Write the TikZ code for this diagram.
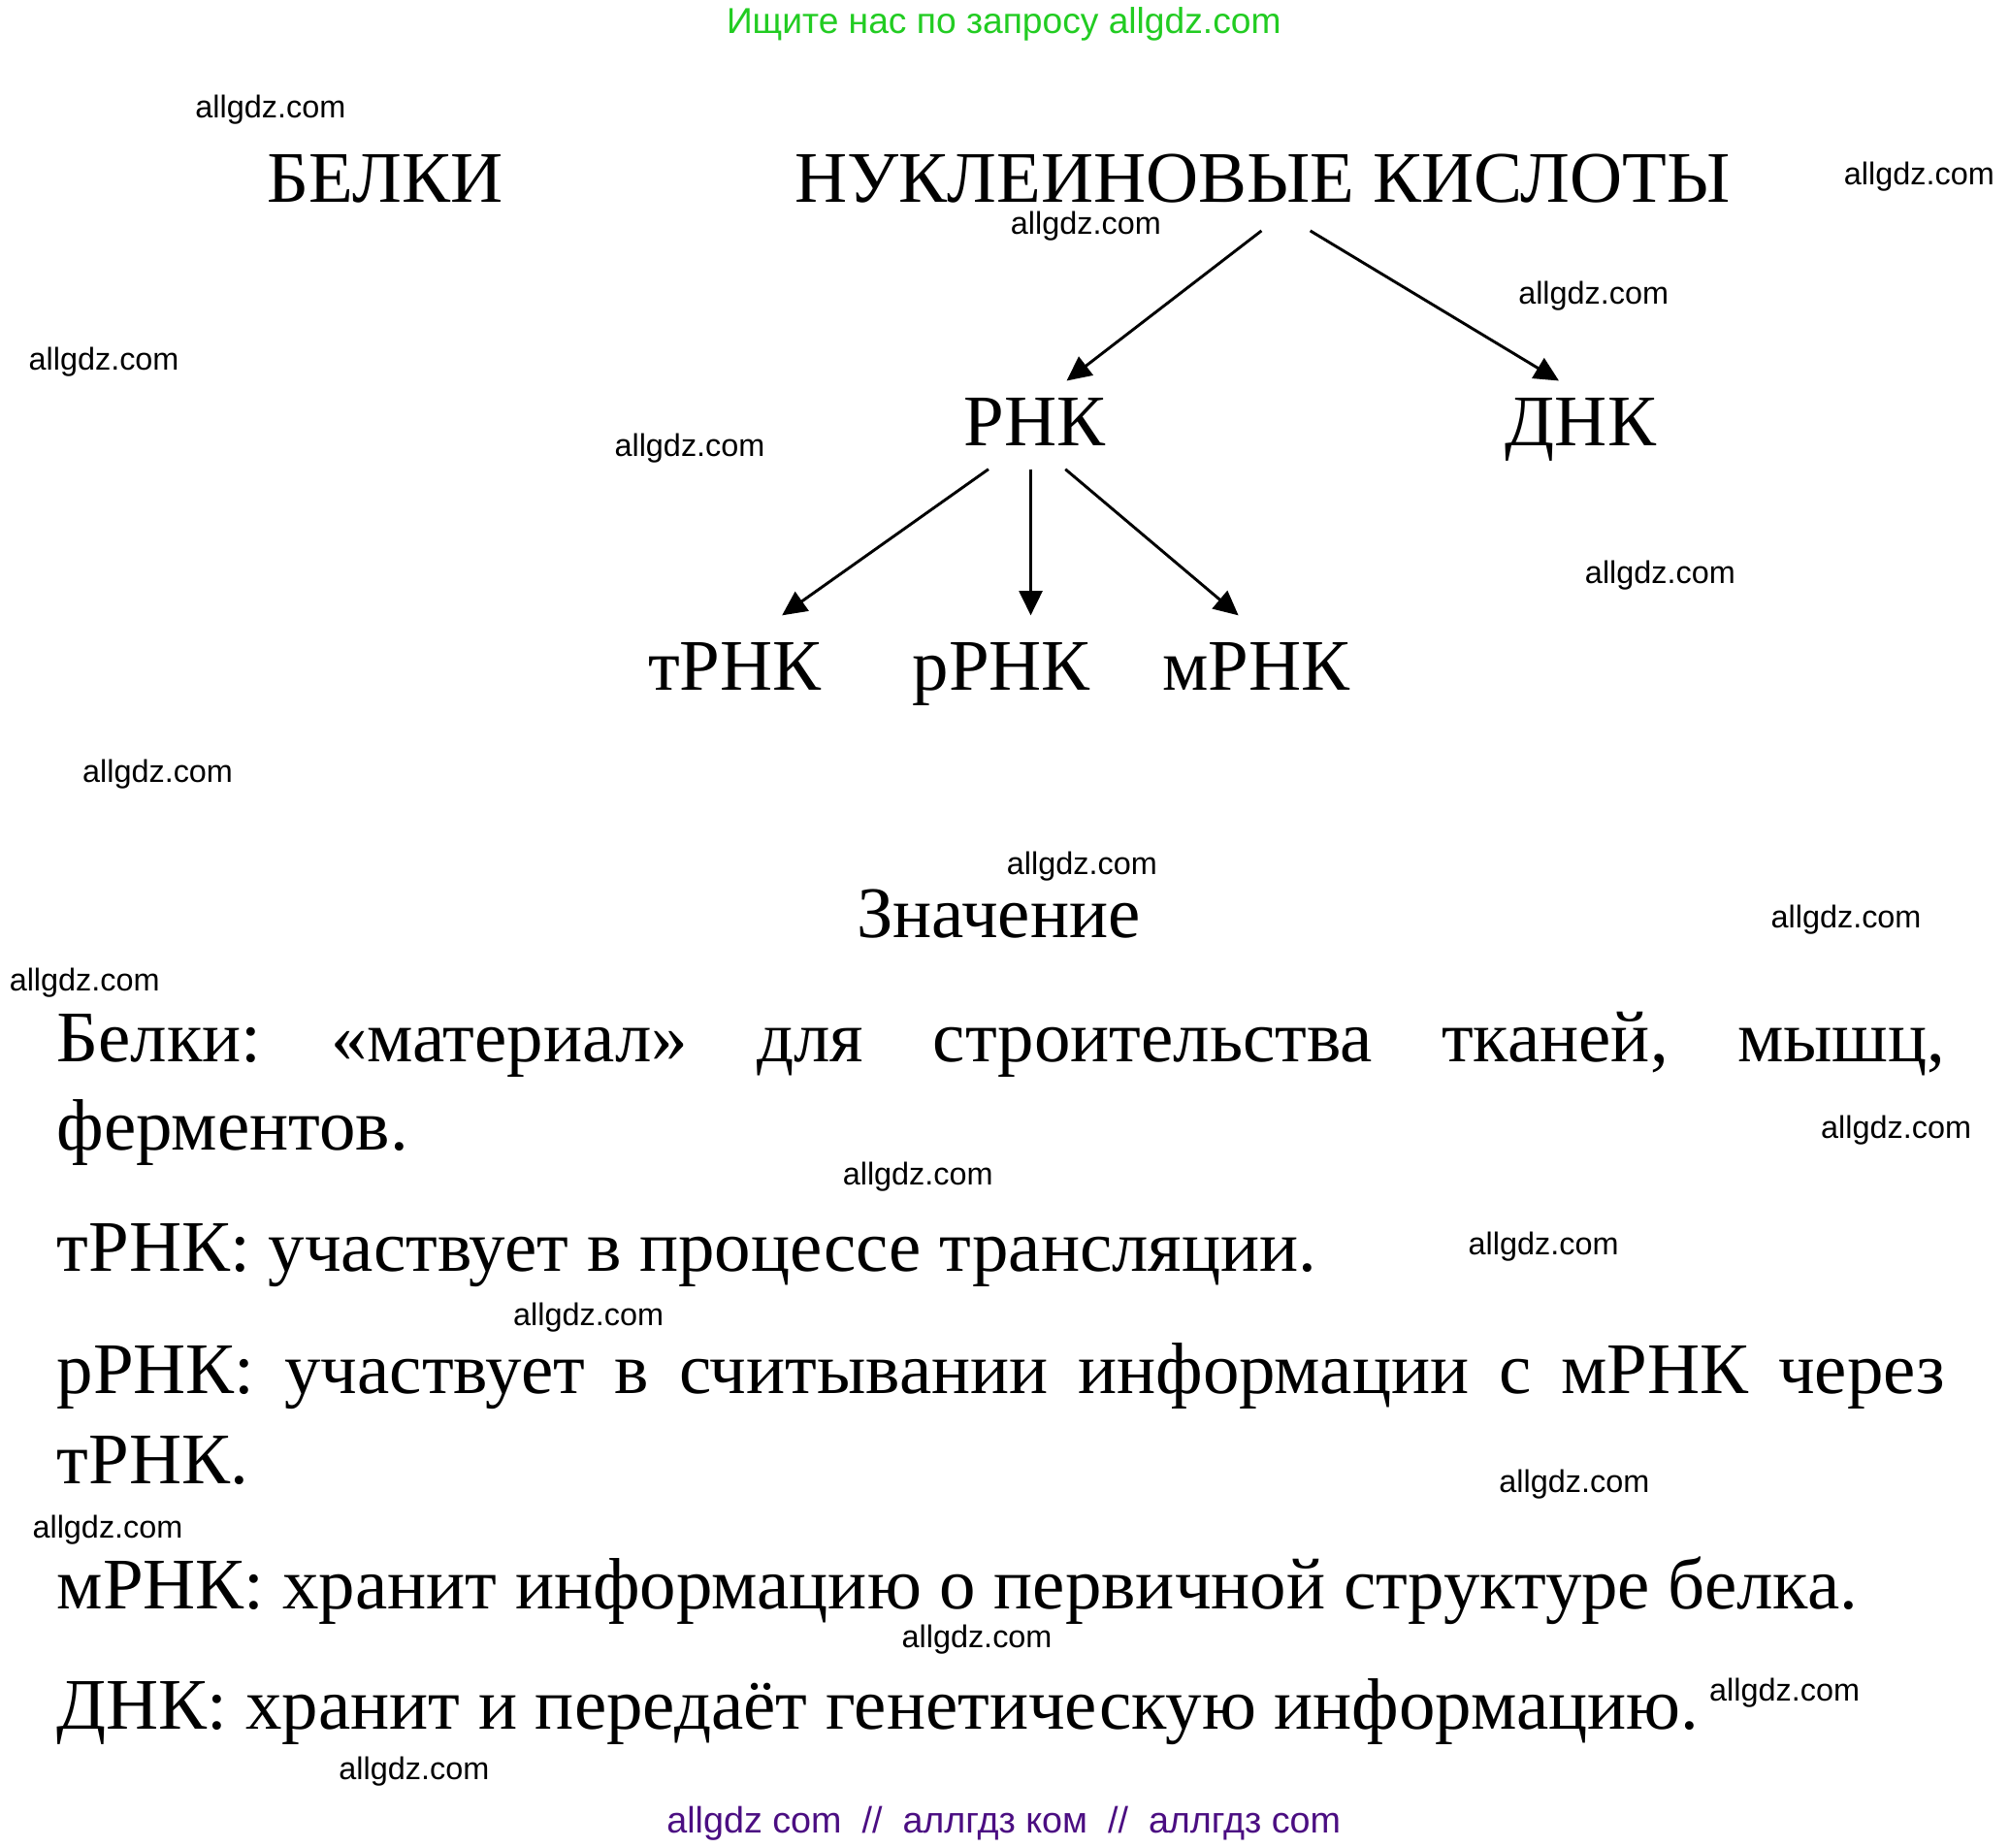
\documentclass[tikz,border=0pt]{standalone}
\usepackage{fontspec}
\setmainfont{Liberation Serif}
\newfontfamily\wmfont{Liberation Sans}
\usetikzlibrary{arrows.meta}
\definecolor{adgreen}{RGB}{34,204,34}
\definecolor{adpurple}{RGB}{75,14,130}
\tikzset{
  big/.style={inner sep=0pt, anchor=base, font=\fontsize{28.2}{34}\selectfont},
  para/.style={inner sep=0pt, anchor=base west, font=\fontsize{28.2}{34}\selectfont},
  wm/.style={inner sep=0pt, anchor=base west, font=\wmfont\fontsize{12.2}{14}\selectfont},
  arr/.style={line width=1.1pt, -{Triangle[length=9.5pt,width=9pt]}},
}
\newcommand{\jline}[1]{\makebox[732.8pt][s]{#1}}
\frenchspacing
\begin{document}
\begin{tikzpicture}[x=0.4975pt,y=-0.4975pt]
\fill[white] (0pt,0pt) rectangle (780pt,-717pt);
\useasboundingbox (0pt,0pt) rectangle (780pt,-717pt);
% header / footer
\node[inner sep=0pt, anchor=base, text=adgreen, font=\wmfont\fontsize{14}{17}\selectfont] (top) at (783,26) {Ищите нас по запросу allgdz.com};
\node[inner sep=0pt, anchor=base, text=adpurple, font=\wmfont\fontsize{14.2}{17}\selectfont] (bottom) at (783,1430) {allgdz com\ \ //\ \ аллгдз ком\ \ //\ \ аллгдз com};
% diagram
\node[big] (belki) at (300.5,158) {БЕЛКИ};
\node[big] (nk) at (985,158) {НУКЛЕИНОВЫЕ КИСЛОТЫ};
\node[big] (rnk) at (807,348) {РНК};
\node[big] (dnk) at (1233,348) {ДНК};
\node[big] (trnk) at (573,538) {тРНК};
\node[big] (rrnk) at (781,538) {рРНК};
\node[big] (mrnk) at (980,538) {мРНК};
\draw[arr] ([shift={(-1,22)}]nk.base) -- ([shift={(25,-51)}]rnk.base);
\draw[arr] ([shift={(37,22)}]nk.base) -- ([shift={(-17,-51)}]dnk.base);
\draw[arr] ([shift={(-36,18)}]rnk.base) -- ([shift={(37,-58)}]trnk.base);
\draw[arr] ([shift={(-3,18)}]rnk.base) -- ([shift={(23,-58)}]rrnk.base);
\draw[arr] ([shift={(24,18)}]rnk.base) -- ([shift={(-14,-58)}]mrnk.base);
% meaning
\node[big] (znach) at (779,731) {Значение};
\node[para] (p1) at (44,828) {\jline{Белки: «материал» для строительства тканей, мышц,}};
\node[para] (p2) at (44,897) {ферментов.};
\node[para] (p3) at (44,992) {тРНК: участвует в процессе трансляции.};
\node[para] (p4) at (44,1087) {\jline{рРНК: участвует в считывании информации с мРНК через}};
\node[para] (p5) at (44,1157) {тРНК.};
\node[para] (p6) at (44,1255) {мРНК: хранит информацию о первичной структуре белка.};
\node[para] (p7) at (44,1349) {ДНК: хранит и передаёт генетическую информацию.};
% watermarks
\node[wm] (w1) at (152,92) {allgdz.com};
\node[wm] (w2) at (1438,144) {allgdz.com};
\node[wm] (w3) at (788,183) {allgdz.com};
\node[wm] (w4) at (1184,237) {allgdz.com};
\node[wm] (w5) at (22,289) {allgdz.com};
\node[wm] (w6) at (479,356) {allgdz.com};
\node[wm] (w7) at (1236,455) {allgdz.com};
\node[wm] (w8) at (64,610) {allgdz.com};
\node[wm] (w9) at (785,682) {allgdz.com};
\node[wm] (w10) at (1381,724) {allgdz.com};
\node[wm] (w11) at (7,773) {allgdz.com};
\node[wm] (w12) at (1420,888) {allgdz.com};
\node[wm] (w13) at (657,924) {allgdz.com};
\node[wm] (w14) at (1145,979) {allgdz.com};
\node[wm] (w15) at (400,1034) {allgdz.com};
\node[wm] (w16) at (1169,1164) {allgdz.com};
\node[wm] (w17) at (25,1200) {allgdz.com};
\node[wm] (w18) at (703,1285) {allgdz.com};
\node[wm] (w19) at (1333,1327) {allgdz.com};
\node[wm] (w20) at (264,1388) {allgdz.com};
\end{tikzpicture}
\end{document}
